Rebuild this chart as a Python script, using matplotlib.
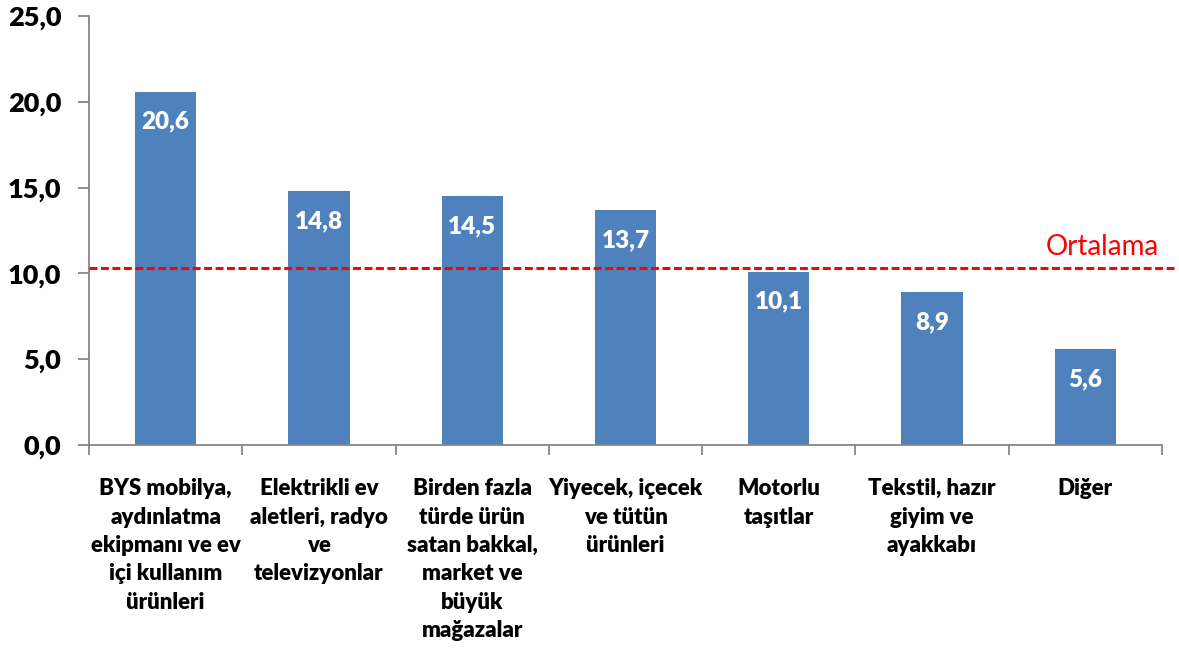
import matplotlib
matplotlib.use("Agg")
import matplotlib.pyplot as plt
import matplotlib.transforms as mtransforms
import numpy as np

categories = [
    "BYS mobilya,\naydınlatma\nekipmanı ve ev\niçi kullanım\nürünleri",
    "Elektrikli ev\naletleri, radyo\nve\ntelevizyonlar",
    "Birden fazla\ntürde ürün\nsatan bakkal,\nmarket ve\nbüyük\nmağazalar",
    "Yiyecek, içecek\nve tütün\nürünleri",
    "Motorlu\ntaşıtlar",
    "Tekstil, hazır\ngiyim ve\nayakkabı",
    "Diğer",
]
values = [20.6, 14.8, 14.5, 13.7, 10.1, 8.9, 5.6]
average = 10.3
average_label = "Ortalama"
yticks = [0, 5, 10, 15, 20, 25]

bar_color = "#4F81BD"
axis_color = "#868686"
font = ["Lato", "DejaVu Sans"]
heavy = 800

fig = plt.figure(figsize=(11.79, 6.48), dpi=100)
ax = fig.add_axes([89 / 1179, 1 - 445 / 648, (1162 - 89) / 1179, (445 - 16) / 648])

x = np.arange(len(values))
ax.bar(x, values, width=0.4, color=bar_color, zorder=2)

for xi, v in zip(x, values):
    ax.annotate(f"{v:.1f}".replace(".", ","), (xi, v), xytext=(0, -30),
                textcoords="offset pixels", ha="center", va="center",
                color="white", fontsize=17.5, fontweight=heavy, family=font,
                bbox=dict(boxstyle="square,pad=0.2", fc=bar_color, ec="none"),
                zorder=3)

trans = mtransforms.blended_transform_factory(ax.transAxes, ax.transData)
ax.plot([0, 1.014], [average, average], transform=trans, color="#FF0000",
        lw=2.2, dashes=(2.6, 1.15), clip_on=False, zorder=4)
ax.text(0.944, average + 0.75, average_label, transform=trans, color="#FF0000",
        fontsize=20, family=font, ha="center", va="baseline")

ax.set_xlim(-0.5, len(values) - 0.5)
ax.set_ylim(0, 25)
ax.set_yticks(yticks)
ax.set_yticklabels([f"{t:.1f}".replace(".", ",") for t in yticks],
                   fontsize=19.5, fontweight=heavy, family=font)
ax.set_xticks(x)
ax.set_xticklabels(categories, fontsize=16, fontweight=heavy, family=font,
                   linespacing=1.43, va="top")
ax.set_xticks(np.arange(len(values) + 1) - 0.5, minor=True)

ax.tick_params(axis="x", which="major", length=0, pad=24)
ax.tick_params(axis="x", which="minor", length=7, width=1.3, color=axis_color, direction="out")
ax.tick_params(axis="y", length=8, width=1.3, color=axis_color, pad=12, direction="out")

for s in ["top", "right"]:
    ax.spines[s].set_visible(False)
for s in ["left", "bottom"]:
    ax.spines[s].set_color(axis_color)
    ax.spines[s].set_linewidth(1.3)

fig.savefig("out.png", dpi=100)
